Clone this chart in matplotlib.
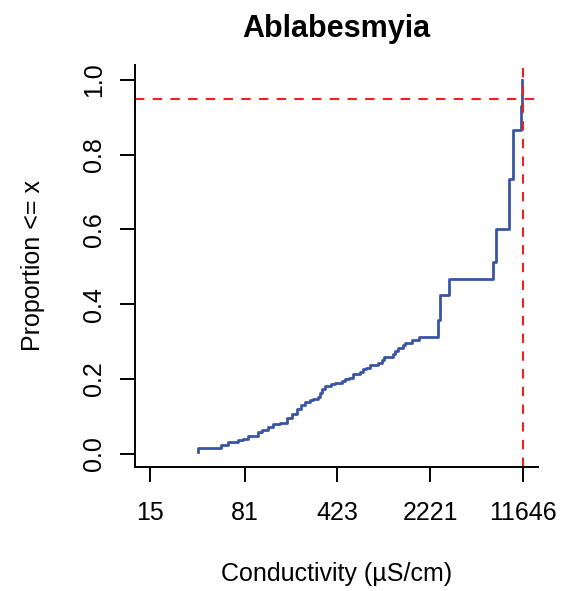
import matplotlib
matplotlib.use("Agg")
import matplotlib.pyplot as plt

plt.rcParams['font.family'] = ['Liberation Sans', 'DejaVu Sans']

# ECDF: conductivity where a step happens, level after the step
conductivity = [35.3, 35.5, 53.2, 60.3, 72.1, 78.8, 86.1, 103, 110.6, 123,
                134.6, 152.5, 172.8, 188.9, 206.5, 221.8, 238.3, 260.5, 274.9, 300.4,
                311.3, 322.7, 340.4, 378.7, 406.8, 460.9, 486.3, 522.3, 561, 635.3,
                670.6, 707.4, 759.7, 876, 940, 970, 1145, 1187, 1252, 1369,
                1418, 1607, 1820, 2578, 2672, 3126, 6855, 7192, 9118, 9688,
                11174, 11535]
proportion = [0.004, 0.015, 0.024, 0.030, 0.035, 0.039, 0.047, 0.059, 0.064, 0.070,
              0.078, 0.083, 0.094, 0.107, 0.120, 0.131, 0.138, 0.142, 0.146, 0.152,
              0.163, 0.174, 0.182, 0.186, 0.190, 0.194, 0.200, 0.203, 0.214, 0.219,
              0.225, 0.230, 0.237, 0.243, 0.251, 0.259, 0.267, 0.275, 0.283, 0.291,
              0.297, 0.304, 0.313, 0.358, 0.425, 0.467, 0.514, 0.601, 0.734, 0.866,
              0.930, 1.0]

xticks = [15, 81, 423, 2221, 11646]
yticks = [0.0, 0.2, 0.4, 0.6, 0.8, 1.0]
cutoff_x = 11646
cutoff_p = 0.95

fig = plt.figure(figsize=(5.8, 5.91), dpi=100)
ax = fig.add_axes([135/580, 1 - 467/591, (538-135)/580, (467-65)/591])

ax.step(conductivity, proportion, where='post', color='#3A55A4', lw=2.0)
ax.axhline(cutoff_p, color='#EE2020', lw=1.5, dashes=(4.5, 4))
ax.axvline(cutoff_x, color='#EE2020', lw=1.5, dashes=(4.5, 4))

ax.set_xscale('log')
ax.set_xlim(11.48, 15218)
ax.set_ylim(-0.036, 1.04)
ax.set_xticks(xticks)
ax.set_xticklabels([str(t) for t in xticks])
ax.minorticks_off()
ax.set_yticks(yticks)
ax.set_yticklabels(['%.1f' % t for t in yticks], rotation=90, va='center')

for s in ['top', 'right']:
    ax.spines[s].set_visible(False)
for s in ['left', 'bottom']:
    ax.spines[s].set_linewidth(1.4)
ax.tick_params(axis='both', length=10.5, width=1.4, labelsize=18)
ax.tick_params(axis='x', pad=14)
ax.tick_params(axis='y', pad=10.5)

fig.text(336.5/580, 1 - 36.5/591, 'Ablabesmyia', ha='center', va='baseline',
         fontsize=22, fontweight='bold')
fig.text(336.5/580, 1 - 581/591, 'Conductivity (µS/cm)', ha='center', va='baseline',
         fontsize=18)
fig.text(33/580, 1 - 266/591, 'Proportion <= x', ha='center', va='center',
         rotation=90, fontsize=18)

fig.savefig('out.png', dpi=100)
